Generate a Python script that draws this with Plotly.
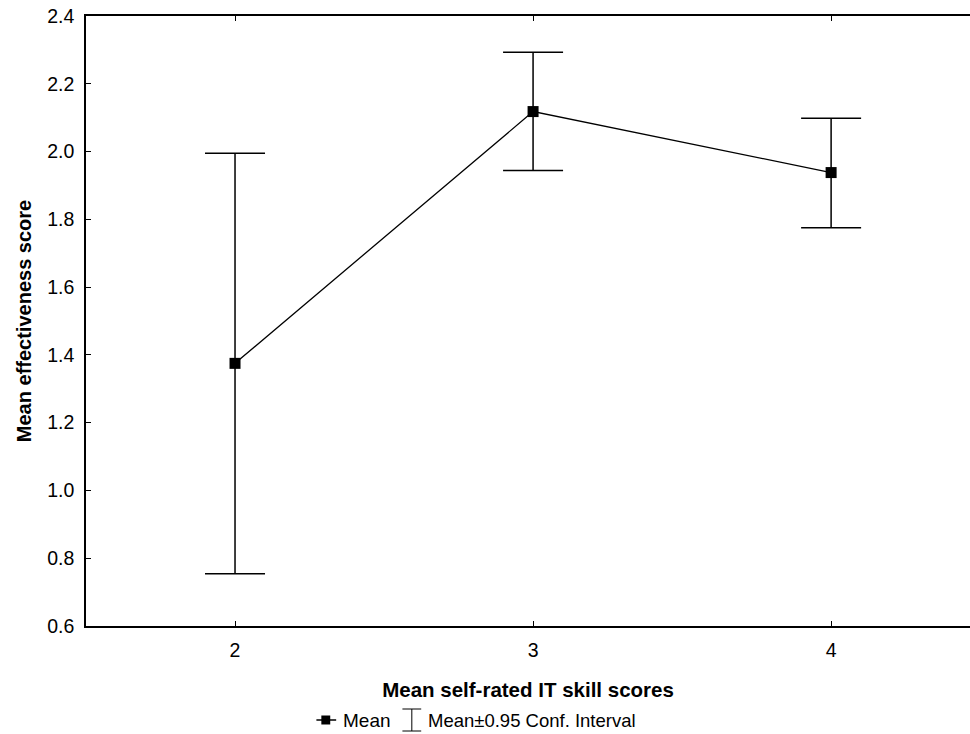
import plotly.graph_objects as go

# Mean effectiveness by self-rated IT skill level, with 95% confidence intervals
skill_levels = [2, 3, 4]
mean_scores = [1.375, 2.118, 1.938]
ci_upper = [1.995, 2.293, 2.098]
ci_lower = [0.754, 1.944, 1.775]

y_ticks = [0.6, 0.8, 1.0, 1.2, 1.4, 1.6, 1.8, 2.0, 2.2, 2.4]
x_ticks = [2, 3, 4]

FONT = "Liberation Sans, Arial, sans-serif"

err_plus = [u - m for u, m in zip(ci_upper, mean_scores)]
err_minus = [m - l for m, l in zip(mean_scores, ci_lower)]

fig = go.Figure()
fig.add_trace(go.Scatter(
    x=skill_levels, y=mean_scores, mode="lines+markers",
    line=dict(color="black", width=1.3),
    marker=dict(symbol="square", size=11, color="black"),
    error_y=dict(type="data", symmetric=False, array=err_plus, arrayminus=err_minus,
                 color="black", thickness=1.5, width=30),
    showlegend=False,
))

fig.update_layout(
    width=970, height=734,
    margin=dict(l=86, r=0, t=16, b=108),
    paper_bgcolor="white", plot_bgcolor="white",
    font=dict(family=FONT, color="black", size=19),
    xaxis=dict(
        range=[1.5, 4.466], tickvals=x_ticks, ticktext=[str(v) for v in x_ticks],
        showline=True, linecolor="black", linewidth=1.5, mirror="ticks",
        ticks="inside", ticklen=5, tickwidth=1, tickcolor="black",
        showgrid=False, zeroline=False,
        tickfont=dict(size=19.5), ticklabelstandoff=6,
        title=dict(text="<b>Mean self-rated IT skill scores</b>", font=dict(size=20.5), standoff=22),
    ),
    yaxis=dict(
        range=[0.6, 2.4], tickvals=y_ticks, ticktext=[f"{v:.1f}" for v in y_ticks],
        showline=True, linecolor="black", linewidth=1.5, mirror=False,
        ticks="inside", ticklen=5, tickwidth=1, tickcolor="black",
        showgrid=False, zeroline=False,
        tickfont=dict(size=19.5), ticklabelstandoff=6,
        title=dict(text="<b>Mean effectiveness score</b>", font=dict(size=20), standoff=10),
    ),
)

# Legend row drawn beneath the axis title (paper coords relative to the plot area)
PW, PH, L0, B0 = 894.0, 610.0, 86.0, 626.0


def px(x):
    return (x - L0) / PW


def py(y):
    return (B0 - y) / PH


LEG_Y = 720
fig.add_shape(type="line", xref="paper", yref="paper", x0=px(319), x1=px(339),
              y0=py(LEG_Y), y1=py(LEG_Y), line=dict(color="black", width=1.5))
fig.add_shape(type="rect", xref="paper", yref="paper", x0=px(324), x1=px(333),
              y0=py(LEG_Y - 4.5), y1=py(LEG_Y + 4.5), line=dict(width=0), fillcolor="black")
fig.add_annotation(xref="paper", yref="paper", x=px(344), y=py(LEG_Y), yanchor="middle",
                   xanchor="left", text="Mean", showarrow=False, font=dict(size=19))
# I-beam icon for the confidence interval
for yy in (LEG_Y - 11, LEG_Y + 11):
    fig.add_shape(type="line", xref="paper", yref="paper", x0=px(406), x1=px(425),
                  y0=py(yy), y1=py(yy), line=dict(color="black", width=1))
fig.add_shape(type="line", xref="paper", yref="paper", x0=px(415.5), x1=px(415.5),
              y0=py(LEG_Y - 11), y1=py(LEG_Y + 11), line=dict(color="black", width=1))
fig.add_annotation(xref="paper", yref="paper", x=px(430), y=py(LEG_Y), yanchor="middle",
                   xanchor="left", text="Mean±0.95 Conf. Interval", showarrow=False,
                   font=dict(size=18.5))

fig.write_html("out.html")
